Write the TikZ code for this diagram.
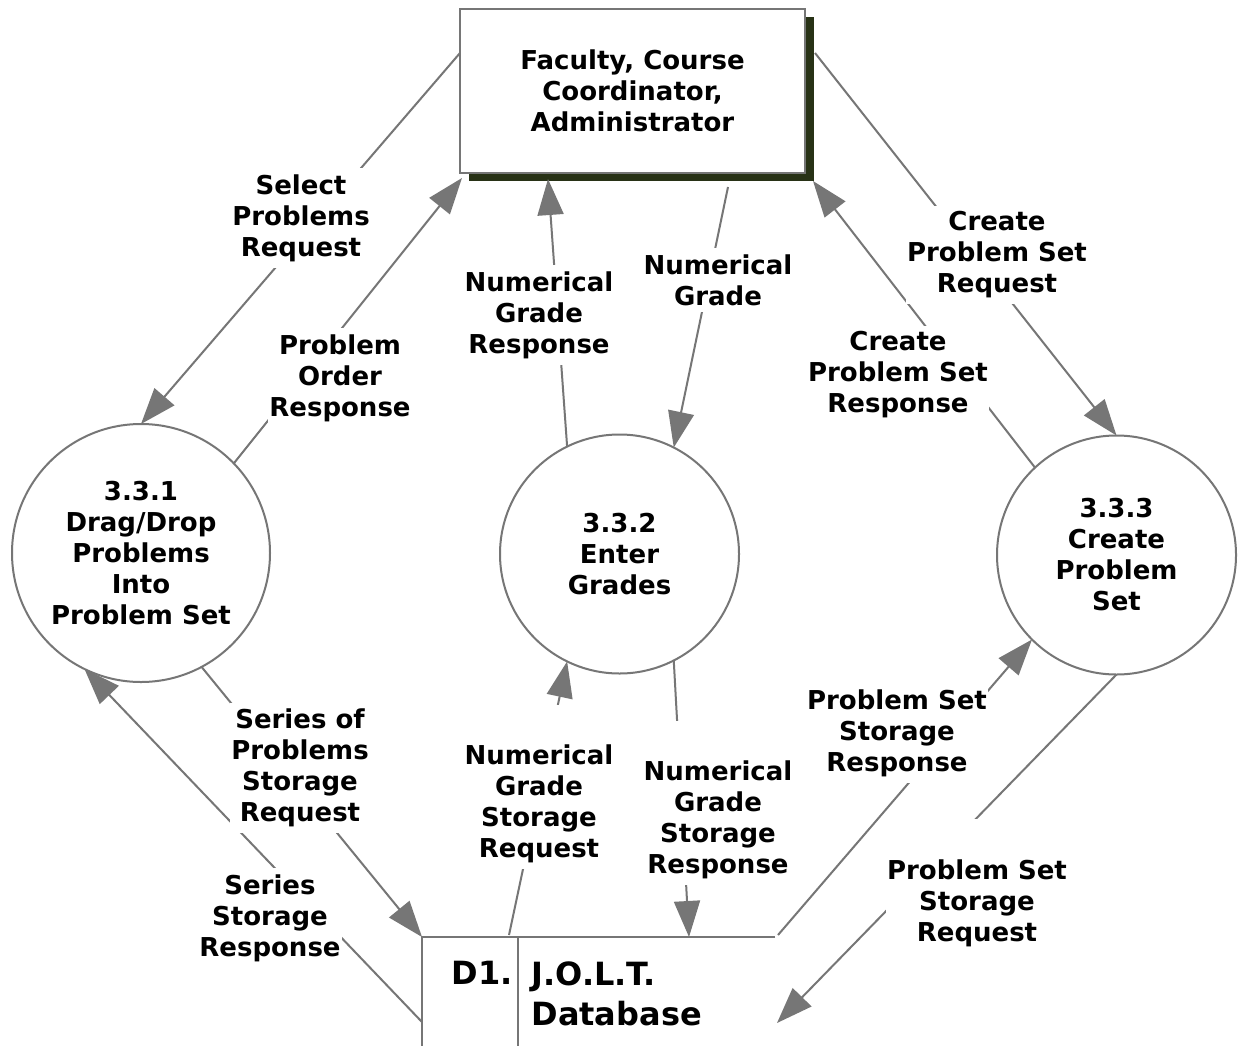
\documentclass[tikz,border=0pt]{standalone}
\usepackage{fontspec}
\setmainfont{DejaVu Sans}
\usetikzlibrary{arrows.meta,calc,shadows}
\definecolor{lc}{RGB}{118,118,118}
\definecolor{shc}{RGB}{40,50,22}
\begin{document}
\begin{tikzpicture}[x=1pt,y=-1pt,
  every node/.style={font=\bfseries\fontsize{26}{31}\selectfont, align=center},
  flow/.style={draw=lc, line width=2pt, -{Triangle[length=36pt,width=26pt]}},
  lbl/.style={fill=white, inner xsep=1pt, inner ysep=6pt},
  proc/.style={circle, draw=lc, line width=2pt, inner sep=0pt, outer sep=0pt},
  dbtext/.style={font=\bfseries\fontsize{32}{40}\selectfont},
  gapfill/.style={fill=white}]
\fill[white] (0,0) rectangle (1238,1046);
\useasboundingbox (0,0) rectangle (1238,1046);

% external entity
\node[draw=lc, line width=2pt, fill=white, minimum width=345pt, minimum height=164pt,
      inner sep=0pt, outer sep=0pt,
      drop shadow={shadow xshift=9pt, shadow yshift=-8pt, fill=shc, opacity=1}]
  (ext) at (632.5,91) {Faculty, Course\\Coordinator,\\Administrator};

% processes
\node[proc, minimum size=258pt] (c1) at (141,553) {3.3.1\\Drag/Drop\\Problems\\Into\\Problem Set};
\node[proc, minimum size=239pt] (c2) at (619.5,554) {3.3.2\\Enter\\Grades};
\node[proc, minimum size=239pt] (c3) at (1116.5,555) {3.3.3\\Create\\Problem\\Set};

% data store
\node[minimum width=353pt, minimum height=109pt, inner sep=0pt, outer sep=0pt, anchor=north west] (db) at (422,937) {};
\draw[lc, line width=2pt] (db.north east) -- (db.north west) -- (db.south west);
\draw[lc, line width=2pt] ($(db.north west)+(96,0)$) -- ($(db.south west)+(96,0)$);
\node[dbtext] (d1) at (482,973) {D1.};
\node[dbtext, align=left, anchor=west] (dbname) at (528,994) {J.O.L.T.\\Database};

% connector end points
\coordinate (p1) at ($(ext.north west)+(0,44)$);
\coordinate (p2) at ($(ext.south west)+(2,5)$);
\coordinate (p3) at ($(ext.south west)+(88,6)$);
\coordinate (p4) at ($(ext.south west)+(268,14)$);
\coordinate (p5) at ($(ext.south east)+(8,8)$);
\coordinate (p6) at ($(ext.north east)+(10,44)$);
\coordinate (q2) at ($(db.north west)+(0,85)$);
\coordinate (q3) at ($(db.north west)+(87,-2)$);
\coordinate (q4) at ($(db.north west)+(267,0)$);
\coordinate (q5) at ($(db.north east)+(3,-2)$);
\coordinate (q6) at ($(db.north east)+(2,86)$);

% flows
\draw[flow] (p1) -- (c1.90);
\draw[flow] (c1.44.7) -- (p2);
\draw[flow] (c2.116.4) -- (p3);
\draw[flow] (p4) -- (c2.63.6);
\draw[flow] (c3.133.7) -- (p5);
\draw[flow] (p6) -- (c3.90);
\draw[flow] (c1.-62.5) -- (db.north west);
\draw[flow] (q2) -- (c1.-116);
\draw[flow] (q3) -- (c2.-116.6);
\draw[flow] (c2.-63.4) -- (q4);
\draw[flow] (q5) -- (c3.-135.3);
\draw[flow] (c3.-90) -- (q6);

% labels
\node[lbl] (l1) at (301,218) {Select\\Problems\\Request};
\node[lbl] (l2) at (340,378) {Problem\\Order\\Response};
\node[lbl] (l3) at (539,315) {Numerical\\Grade\\Response};
\node[lbl] (l4) at (718,280) {Numerical\\Grade};
\node[lbl] (l5) at (898,375) {Create\\Problem Set\\Response};
\node[lbl] (l6) at (997,255) {Create\\Problem Set\\Request};
\node[lbl] (l7) at (300,768) {Series of\\Problems\\Storage\\Request};
\node[lbl] (l8) at (270,918) {Series\\Storage\\Response};
\node[lbl] (l9) at (539,804) {Numerical\\Grade\\Storage\\Request};
\node[lbl] (l10) at (718,820) {Numerical\\Grade\\Storage\\Response};
\node[lbl] (l11) at (897,733) {Problem Set\\Storage\\Response};
\node[lbl] (l12) at (977,903) {Problem Set\\Storage\\Request};
\fill[gapfill] ($(l9.north west)+(0,-34)$) rectangle (l9.north east);
\fill[gapfill] ($(l10.north west)+(0,-34)$) rectangle (l10.north east);
\fill[gapfill] ($(l12.north west)+(0,-34)$) rectangle (l12.north east);
\end{tikzpicture}
\end{document}
